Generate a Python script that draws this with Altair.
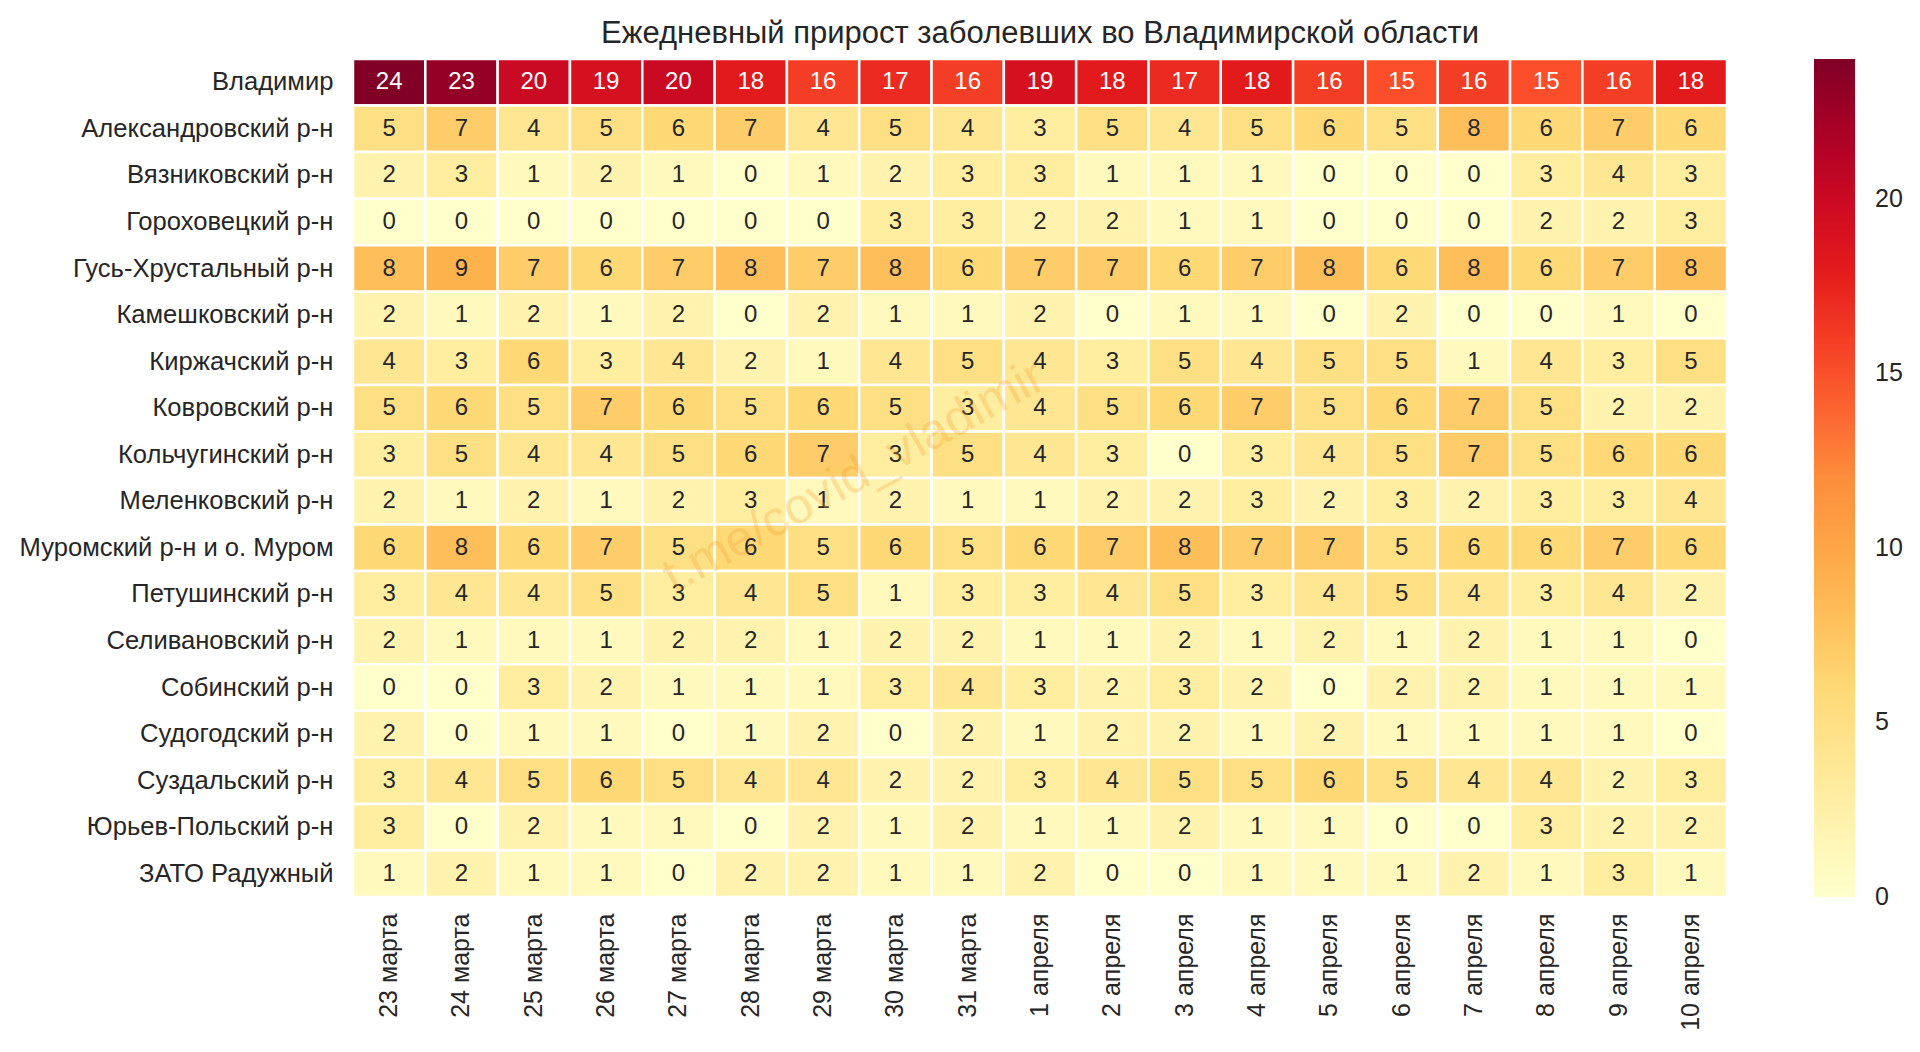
import altair as alt
import pandas as pd
import numpy as np

title_text = "Ежедневный прирост заболевших во Владимирской области"

dates = ["23 марта", "24 марта", "25 марта", "26 марта", "27 марта", "28 марта",
         "29 марта", "30 марта", "31 марта", "1 апреля", "2 апреля", "3 апреля",
         "4 апреля", "5 апреля", "6 апреля", "7 апреля", "8 апреля", "9 апреля",
         "10 апреля"]

regions = ["Владимир", "Александровский р-н", "Вязниковский р-н", "Гороховецкий р-н",
           "Гусь-Хрустальный р-н", "Камешковский р-н", "Киржачский р-н", "Ковровский р-н",
           "Кольчугинский р-н", "Меленковский р-н", "Муромский р-н и о. Муром",
           "Петушинский р-н", "Селивановский р-н", "Собинский р-н", "Судогодский р-н",
           "Суздальский р-н", "Юрьев-Польский р-н", "ЗАТО Радужный"]

vladimir      = [24, 23, 20, 19, 20, 18, 16, 17, 16, 19, 18, 17, 18, 16, 15, 16, 15, 16, 18]
aleksandrov   = [5, 7, 4, 5, 6, 7, 4, 5, 4, 3, 5, 4, 5, 6, 5, 8, 6, 7, 6]
vyazniki      = [2, 3, 1, 2, 1, 0, 1, 2, 3, 3, 1, 1, 1, 0, 0, 0, 3, 4, 3]
gorokhovets   = [0, 0, 0, 0, 0, 0, 0, 3, 3, 2, 2, 1, 1, 0, 0, 0, 2, 2, 3]
gus           = [8, 9, 7, 6, 7, 8, 7, 8, 6, 7, 7, 6, 7, 8, 6, 8, 6, 7, 8]
kameshkovo    = [2, 1, 2, 1, 2, 0, 2, 1, 1, 2, 0, 1, 1, 0, 2, 0, 0, 1, 0]
kirzhach      = [4, 3, 6, 3, 4, 2, 1, 4, 5, 4, 3, 5, 4, 5, 5, 1, 4, 3, 5]
kovrov        = [5, 6, 5, 7, 6, 5, 6, 5, 3, 4, 5, 6, 7, 5, 6, 7, 5, 2, 2]
kolchugino    = [3, 5, 4, 4, 5, 6, 7, 3, 5, 4, 3, 0, 3, 4, 5, 7, 5, 6, 6]
melenki       = [2, 1, 2, 1, 2, 3, 1, 2, 1, 1, 2, 2, 3, 2, 3, 2, 3, 3, 4]
murom         = [6, 8, 6, 7, 5, 6, 5, 6, 5, 6, 7, 8, 7, 7, 5, 6, 6, 7, 6]
petushki      = [3, 4, 4, 5, 3, 4, 5, 1, 3, 3, 4, 5, 3, 4, 5, 4, 3, 4, 2]
selivanovo    = [2, 1, 1, 1, 2, 2, 1, 2, 2, 1, 1, 2, 1, 2, 1, 2, 1, 1, 0]
sobinka       = [0, 0, 3, 2, 1, 1, 1, 3, 4, 3, 2, 3, 2, 0, 2, 2, 1, 1, 1]
sudogda       = [2, 0, 1, 1, 0, 1, 2, 0, 2, 1, 2, 2, 1, 2, 1, 1, 1, 1, 0]
suzdal        = [3, 4, 5, 6, 5, 4, 4, 2, 2, 3, 4, 5, 5, 6, 5, 4, 4, 2, 3]
yuryev        = [3, 0, 2, 1, 1, 0, 2, 1, 2, 1, 1, 2, 1, 1, 0, 0, 3, 2, 2]
raduzhny      = [1, 2, 1, 1, 0, 2, 2, 1, 1, 2, 0, 0, 1, 1, 1, 2, 1, 3, 1]

rows = [vladimir, aleksandrov, vyazniki, gorokhovets, gus, kameshkovo, kirzhach,
        kovrov, kolchugino, melenki, murom, petushki, selivanovo, sobinka, sudogda,
        suzdal, yuryev, raduzhny]

# colorbar ticks (first one nudged a hair above 0 so its label is centred on the bar end)
colorbar_ticks = [0.01, 5, 10, 15, 20]
watermark = "t.me/covid_vladimir"

# YlOrRd ramp (matplotlib / colorbrewer 9-class)
ylorrd = ["#ffffcc", "#ffeda0", "#fed976", "#feb24c", "#fd8d3c",
          "#fc4e2a", "#e31a1c", "#bd0026", "#800026"]

records = []
for reg, vals in zip(regions, rows):
    for d, v in zip(dates, vals):
        records.append({"region": reg, "date": d, "v": v})
df = pd.DataFrame(records)

vmax = float(df["v"].max())
stops = list(np.linspace(0, vmax, len(ylorrd)))

FONT = "Liberation Sans"
TXT = "#262626"

x_enc = alt.X("date:N", sort=dates, title=None,
              scale=alt.Scale(paddingInner=0, paddingOuter=0),
              axis=alt.Axis(labelAngle=270, labelFontSize=25, labelPadding=16,
                            ticks=False, domain=False, labelColor=TXT, labelFont=FONT,
                            labelLimit=0))
y_enc = alt.Y("region:N", sort=regions, title=None,
              scale=alt.Scale(paddingInner=0, paddingOuter=0),
              axis=alt.Axis(labelFontSize=25.6, labelPadding=20, ticks=False, domain=False,
                            labelColor=TXT, labelFont=FONT, labelLimit=0,
                            minExtent=340, maxExtent=340))

base = alt.Chart(df)

rects = base.mark_rect(stroke="white", strokeWidth=2.5).encode(
    x=x_enc,
    y=y_enc,
    color=alt.Color("v:Q", title=None,
                    scale=alt.Scale(domain=stops, range=ylorrd, interpolate="rgb"),
                    legend=alt.Legend(orient="right", offset=87, padding=0,
                                      gradientLength=838, gradientThickness=41,
                                      gradientStrokeWidth=0, format="d",
                                      values=colorbar_ticks, labelFontSize=25,
                                      labelFont=FONT, labelColor=TXT, labelOffset=20)),
)

labels = base.mark_text(fontSize=24, font=FONT).encode(
    x=alt.X("date:N", sort=dates),
    y=alt.Y("region:N", sort=regions),
    text=alt.Text("v:Q"),
    color=alt.condition(alt.datum.v >= 12, alt.value("white"), alt.value(TXT)),
)

wm = alt.Chart(pd.DataFrame({"t": [watermark]})).mark_text(
    fontSize=50, font=FONT, angle=331, color="#f0a030", opacity=0.28,
    align="center", baseline="middle"
).encode(text="t:N", x=alt.value(501), y=alt.value(418))

chart = alt.layer(rects, labels, wm).properties(
    width=1374, height=838,
    padding={"left": 5, "top": 9, "right": 5, "bottom": 5},
    title=alt.TitleParams(title_text, fontSize=31, font=FONT, color=TXT,
                          fontWeight="normal", offset=14, dy=6, anchor="middle"),
).configure_view(stroke=None).configure(background="white")

chart.save("out.html", embed_options={"renderer": "svg", "actions": False})
